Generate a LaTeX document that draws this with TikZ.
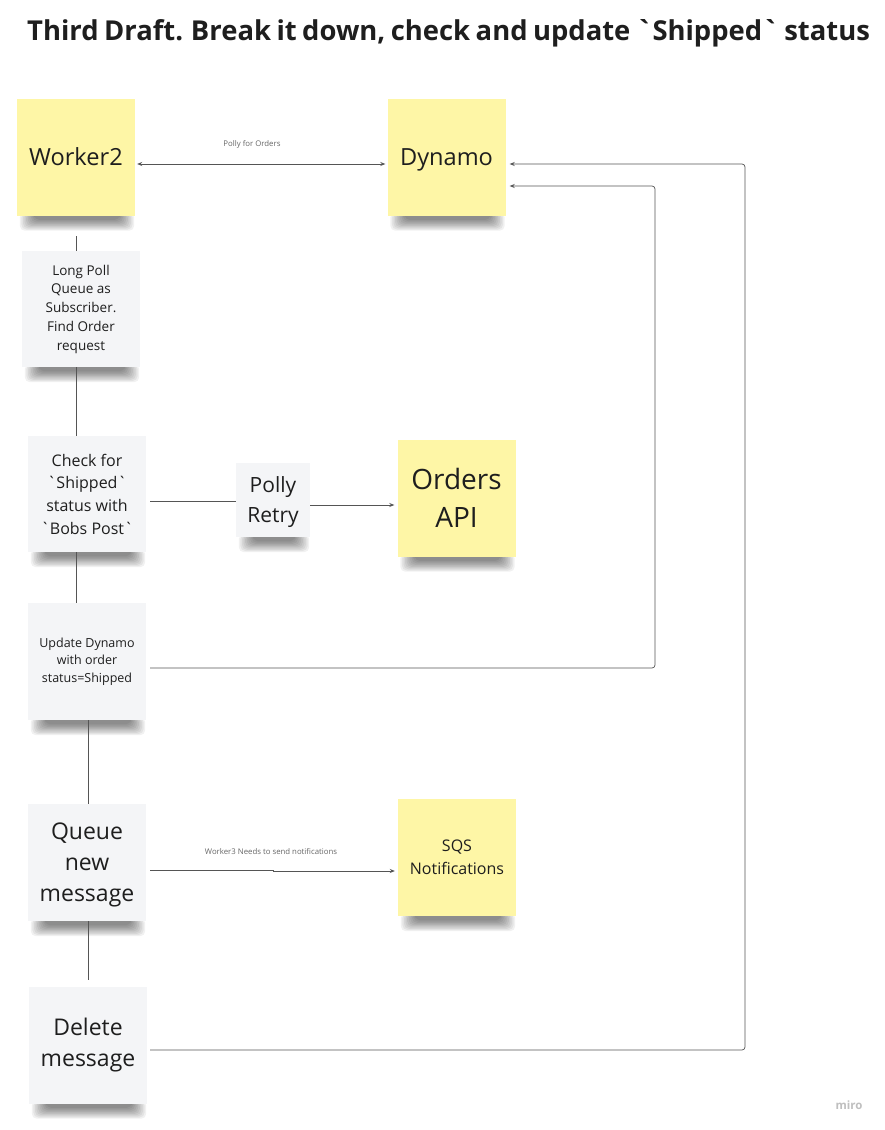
\documentclass[tikz,border=0pt]{standalone}
\usepackage{fontspec}
\setmainfont{Open Sans}[Ligatures=TeXOff]
\usetikzlibrary{arrows.meta,backgrounds}
\definecolor{stickyY}{HTML}{FEF6A6}
\definecolor{stickyG}{HTML}{F4F5F7}
\definecolor{lineC}{HTML}{555555}
\definecolor{txtC}{HTML}{1E1E1E}
\tikzset{
  sticky/.style={minimum width=118pt,minimum height=117pt,inner sep=2pt,align=center,text=txtC},
  ysticky/.style={sticky,fill=stickyY},
  gsticky/.style={sticky,fill=stickyG},
  conn/.style={draw=lineC,line width=0.7pt},
  arr/.style={conn,-{Stealth[length=5pt,width=4pt]}},
  darr/.style={conn,{Stealth[length=5pt,width=4pt]}-{Stealth[length=5pt,width=4pt]}},
  clabel/.style={font=\fontsize{7.8}{9}\selectfont,text=black!60,inner sep=0pt},
}
\newcommand{\stickyshadow}[1]{%
  \foreach \i in {0,...,9}{%
    \fill[black,opacity=0.055,rounded corners=5pt]
      ([xshift={(3+1.6*\i)*1pt},yshift=3pt]#1.south west) rectangle ([xshift={-(1+1.6*\i)*1pt},yshift={-(15-1.2*\i)*1pt}]#1.south east);}}
\begin{document}
\begin{tikzpicture}[x=1pt,y=-1pt]
\useasboundingbox (0,0) rectangle (884,1130);

\node[anchor=west,font=\bfseries\fontsize{27.4}{32}\selectfont,text=txtC,inner sep=0pt] (title) at (27,33.5)
  {\spaceskip=0.2em Third Draft. Break it down, check and update `Shipped` status};

\node[ysticky,font=\fontsize{23.6}{31}\selectfont] (w2) at (76,157) {Worker2};
\node[ysticky,font=\fontsize{23.6}{31}\selectfont,text depth=0pt] (dyn) at (446.5,157) {Dynamo};
\node[gsticky,font=\fontsize{13.5}{18.75}\selectfont,minimum height=116pt] (lp) at (81,309)
  {Long Poll\\Queue as\\Subscriber.\\Find Order\\request};
\node[gsticky,font=\fontsize{16}{22.7}\selectfont,minimum height=116pt] (chk) at (87,494)
  {Check for\\`Shipped`\\status with\\`Bobs Post`};
\node[gsticky,font=\fontsize{21}{30}\selectfont,minimum width=74pt,minimum height=74pt,text depth=0pt] (pr) at (273,500)
  {Polly\\Retry};
\node[ysticky,font=\fontsize{28}{38}\selectfont] (oapi) at (456.5,498) {Orders\\API};
\node[gsticky,font=\fontsize{12.5}{17.5}\selectfont] (upd) at (87,661.5)
  {Update Dynamo\\with order\\status=Shipped};
\node[gsticky,font=\fontsize{23}{31}\selectfont,text depth=0pt] (qnm) at (87,862.5) {Queue\\new\\message};
\node[ysticky,font=\fontsize{16}{23}\selectfont] (sqs) at (457,857.5) {SQS\\Notifications};
\node[gsticky,font=\fontsize{23}{31}\selectfont] (del) at (88,1045) {Delete\\message};

\begin{scope}[on background layer]
\fill[white] (0,0) rectangle (884,1130);
\foreach \n in {w2,dyn,lp,chk,pr,oapi,upd,qnm,sqs,del} {\stickyshadow{\n}}
\end{scope}

% vertical flow lines
\coordinate (s1) at (76,236);
\draw[conn] (s1) -- (lp.north -| s1);
\draw[conn] (lp.south -| s1) -- (chk.north -| s1);
\draw[conn] (chk.south -| s1) -- (upd.north -| s1);
\coordinate (s2) at (88,720);
\draw[conn] (upd.south -| s2) -- (qnm.north -| s2);
\coordinate (s3) at (88,980);
\draw[conn] (qnm.south -| s3) -- (s3);

% horizontal connectors
\draw[darr] ([xshift=2pt,yshift=-7pt]w2.east) -- ([xshift=-2pt,yshift=-7pt]dyn.west);
\node[clabel] (lbl1) at (252,144) {Polly for Orders};
\draw[conn] ([xshift=4pt,yshift=-7pt]chk.east) -- ([yshift=-1pt]pr.west);
\draw[arr] ([yshift=-5pt]pr.east) -- ([xshift=-3pt,yshift=-7pt]oapi.west);
\coordinate (ua) at ([xshift=4pt,yshift=-6.5pt]upd.east);
\coordinate (ub) at (655,186);
\draw[arr,rounded corners=3pt] (ua) -| (ub) -- ([xshift=4pt]ub -| dyn.east);
\coordinate (qa) at ([xshift=4pt,yshift=-7.5pt]qnm.east);
\coordinate (qj) at (273,871);
\draw[arr] (qa) -- (qa -| qj) -- (qj) -- ([xshift=-3pt]qj -| sqs.west);
\node[clabel] (lbl2) at (271,852) {Worker3 Needs to send notifications};
\coordinate (da) at ([xshift=3pt,yshift=-5pt]del.east);
\coordinate (db) at (745,164);
\draw[arr,rounded corners=3pt] (da) -| (db) -- ([xshift=4pt]db -| dyn.east);

\node[font=\bfseries\fontsize{11.5}{12}\selectfont,text=black!25] (miro) at (849,1105) {miro};
\end{tikzpicture}
\end{document}
